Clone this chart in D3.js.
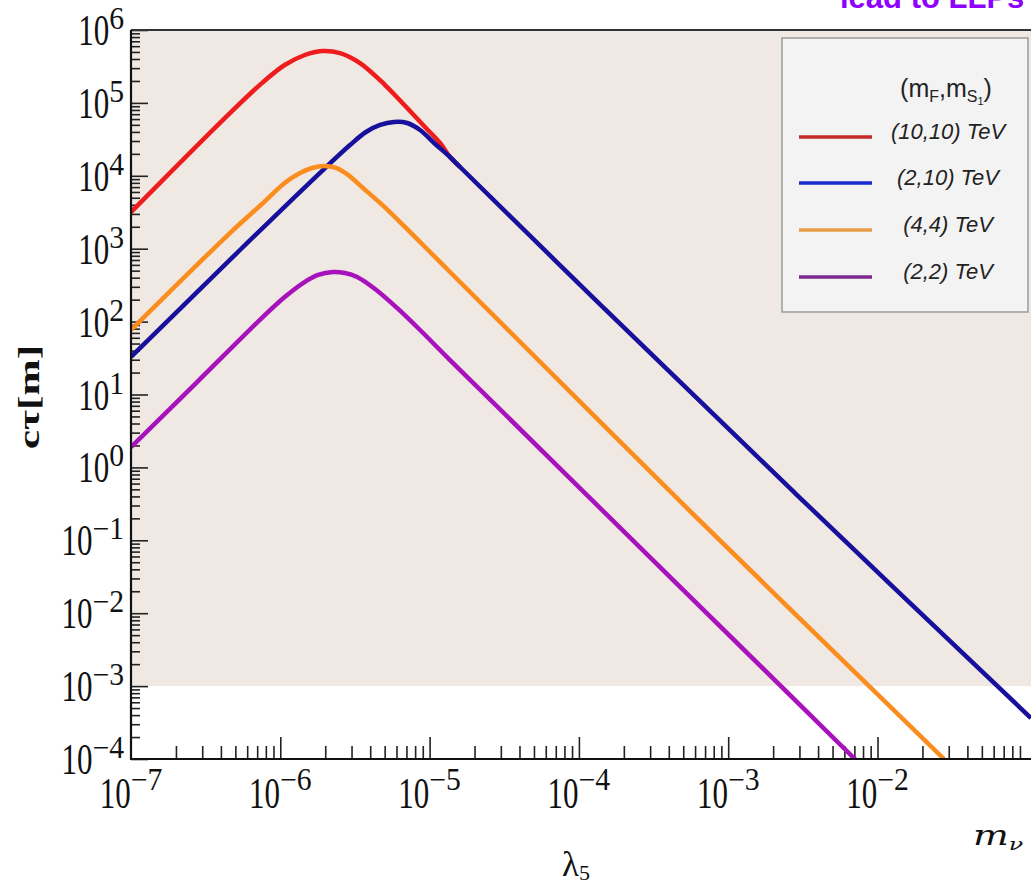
<!DOCTYPE html>
<html>
<head>
<meta charset="utf-8">
<script src="https://cdn.jsdelivr.net/npm/d3@7"></script>
<style>
  body { margin: 0; background: #fff; }
  svg { display: block; }
</style>
</head>
<body>
<svg id="chart" width="1031" height="885"></svg>
<script>
// values (lambda_5 vs c*tau in metres)
const lambdaRed = [1e-7, 4.60e-7, 7.53e-7, 1.07e-6, 1.46e-6, 1.90e-6, 2.51e-6, 3.42e-6, 5.03e-6, 7.39e-6, 9.31e-6, 1.175e-5, 1.37e-5, 1.60e-5];
const ctauRed = [3.18e3, 7.26e4, 1.87e5, 3.31e5, 4.54e5, 5.15e5, 4.83e5, 3.52e5, 1.76e5, 7.74e4, 4.67e4, 2.82e4, 1.81e4, 1.32e4];

const lambdaBlue = [1e-7, 5.37e-7, 1.93e-6, 2.93e-6, 3.75e-6, 4.66e-6, 5.78e-6, 7.07e-6, 8.63e-6, 1.09e-5, 1.37e-5, 1.60e-5, 1.38e-4, 2.89e-3, 0.1066];
const ctauBlue = [32.7, 960, 1.20e4, 2.64e4, 3.99e4, 4.98e4, 5.47e4, 5.30e4, 4.25e4, 2.73e4, 1.81e4, 1.32e4, 174, 0.418, 3.65e-4];

const lambdaOrange = [1e-7, 4.60e-7, 7.53e-7, 1.07e-6, 1.355e-6, 1.63e-6, 1.96e-6, 2.36e-6, 2.84e-6, 3.52e-6, 4.66e-6, 6.34e-6, 1.37e-5, 5.55e-4, 2.79e-2];
const ctauOrange = [76.7, 1.64e3, 4.10e3, 7.96e3, 1.09e4, 1.28e4, 1.36e4, 1.28e4, 1.03e4, 7.02e3, 4.24e3, 2.32e3, 479, 0.252, 1e-4];

const lambdaPurple = [1e-7, 2.77e-7, 7.66e-7, 1.07e-6, 1.42e-6, 1.79e-6, 2.25e-6, 2.71e-6, 3.27e-6, 4.31e-6, 6.05e-6, 8.63e-6, 1.37e-5, 7.06e-3];
const ctauPurple = [1.90, 14.8, 116, 217, 338, 436, 479, 464, 409, 280, 154, 76.7, 29.7, 1e-4];

const legendLabels = ['(10,10) TeV', '(2,10) TeV', '(4,4) TeV', '(2,2) TeV'];
const xTickExps = [-7, -6, -5, -4, -3, -2];
const yTickExps = [-4, -3, -2, -1, 0, 1, 2, 3, 4, 5, 6];
const shadeFloor = 1e-3;

const series = [
    { lambda: lambdaRed, ctau: ctauRed, color: '#ee1c1c', legendColor: '#c62b2b' },
    { lambda: lambdaBlue, ctau: ctauBlue, color: '#16109c', legendColor: '#1a2bd0' },
    { lambda: lambdaOrange, ctau: ctauOrange, color: '#fb8c1e', legendColor: '#e89c48' },
    { lambda: lambdaPurple, ctau: ctauPurple, color: '#a812bd', legendColor: '#7d2a8c' }
];

const svg = d3.select('#chart');
const plotLeft = 131, plotTop = 30, plotBottom = 759, plotRight = 1031;

const x = d3.scaleLog().domain([1e-7, 1e-1]).range([plotLeft, plotLeft + 6 * 149.3]);
const y = d3.scaleLog().domain([1e-4, 1e6]).range([plotBottom, plotTop]);

// purple slide text, mostly cut off at the top
svg.append('text')
    .attr('x', 840).attr('y', 8)
    .attr('font-family', 'Liberation Sans, Arial, sans-serif')
    .attr('font-weight', 'bold')
    .attr('font-size', 31)
    .attr('fill', '#9000ff')
    .text('lead to LLPs');

// shaded region c*tau > 1 mm
svg.append('rect')
    .attr('x', plotLeft).attr('y', plotTop)
    .attr('width', plotRight - plotLeft)
    .attr('height', y(shadeFloor) - plotTop)
    .attr('fill', '#f0e8e2');

svg.append('defs').append('clipPath').attr('id', 'plotclip')
    .append('rect')
    .attr('x', plotLeft).attr('y', plotTop)
    .attr('width', plotRight - plotLeft).attr('height', plotBottom - plotTop);

// minor / major ticks
const minorVals = exps => {
    let out = [];
    exps.forEach(e => {
        for (let k = 2; k <= 9; k++) out.push(k * Math.pow(10, e));
    });
    return out;
};

const xAxisG = svg.append('g').attr('transform', `translate(0,${plotBottom})`);
xAxisG.append('g')
    .call(d3.axisBottom(x).tickValues(minorVals(xTickExps)).tickSize(-13).tickFormat(''))
    .call(g => g.select('.domain').remove());
xAxisG.append('g')
    .call(d3.axisBottom(x).tickValues(xTickExps.slice(1).map(e => Math.pow(10, e))).tickSize(-22).tickFormat(''))
    .call(g => g.select('.domain').remove());
xAxisG.selectAll('line').attr('stroke', '#222').attr('stroke-width', 1.6);

const yAxisG = svg.append('g').attr('transform', `translate(${plotLeft},0)`);
yAxisG.append('g')
    .call(d3.axisLeft(y).tickValues(minorVals(yTickExps.slice(0, -1))).tickSize(-9).tickFormat(''))
    .call(g => g.select('.domain').remove());
yAxisG.append('g')
    .call(d3.axisLeft(y).tickValues(yTickExps.map(e => Math.pow(10, e))).tickSize(-17).tickFormat(''))
    .call(g => g.select('.domain').remove());
yAxisG.selectAll('line').attr('stroke', '#222').attr('stroke-width', 1.6);

// curves
const line = d3.line()
    .x(d => x(d[0]))
    .y(d => y(d[1]))
    .curve(d3.curveCatmullRom.alpha(0.5));

svg.append('g')
    .attr('clip-path', 'url(#plotclip)')
    .selectAll('path')
    .data(series)
    .enter()
    .append('path')
    .attr('d', s => line(s.lambda.map((l, i) => [l, s.ctau[i]])))
    .attr('fill', 'none')
    .attr('stroke', s => s.color)
    .attr('stroke-width', 4.5)
    .attr('stroke-linejoin', 'round');

// frame
svg.append('line').attr('x1', plotLeft).attr('x2', plotRight).attr('y1', plotTop).attr('y2', plotTop)
    .attr('stroke', '#333').attr('stroke-width', 2);
svg.append('line').attr('x1', plotLeft).attr('x2', plotLeft).attr('y1', plotTop).attr('y2', plotBottom + 1)
    .attr('stroke', '#111').attr('stroke-width', 2.2);
svg.append('line').attr('x1', plotLeft - 1).attr('x2', plotRight).attr('y1', plotBottom).attr('y2', plotBottom)
    .attr('stroke', '#111').attr('stroke-width', 2.2);

// 10^n labels, stretched like the picture
const serif = 'Liberation Serif, Times New Roman, serif';
const powLabel = (exp, px, py, mode) => {
    let g = svg.append('g');
    let baseG = g.append('g');
    let base = baseG.append('text')
        .attr('font-family', serif).attr('font-size', 31).attr('fill', '#111')
        .text('10');
    let expG = g.append('g');
    let sup = expG.append('text')
        .attr('font-family', serif).attr('font-size', 22).attr('fill', '#111')
        .text(String(exp).replace('-', '\u2212'));
    let bw = base.node().getComputedTextLength();
    let ew = sup.node().getComputedTextLength() * 1.35;
    let startX = mode === 'y' ? px - ew - bw : px - (bw + ew) / 2;
    let baseY = mode === 'y' ? py + 15 : py;
    let supY = mode === 'y' ? py - 1 : py - 18;
    baseG.attr('transform', `translate(${startX},${baseY}) scale(1,1.4)`);
    expG.attr('transform', `translate(${startX + bw},${supY}) scale(1.35,1.4)`);
};

yTickExps.forEach(e => powLabel(e, 124, y(Math.pow(10, e)), 'y'));
xTickExps.forEach(e => powLabel(e, x(Math.pow(10, e)), 808, 'x'));

// axis titles
svg.append('text')
    .attr('transform', 'translate(39,397) rotate(-90) scale(1.5,1)')
    .attr('text-anchor', 'middle')
    .attr('font-family', serif).attr('font-weight', 'bold').attr('font-size', 29)
    .attr('fill', '#111')
    .text('c\u03c4[m]');

let xt = svg.append('text')
    .attr('x', 562).attr('y', 876)
    .attr('font-family', serif).attr('font-size', 35).attr('fill', '#111');
xt.append('tspan').text('\u03bb');
xt.append('tspan').attr('font-size', 22).attr('dy', 4).text('5');

let mt = svg.append('g').attr('transform', 'translate(973,845) scale(1.4,1)');
let mtext = mt.append('text')
    .attr('font-family', 'DejaVu Serif, serif').attr('font-style', 'italic').attr('font-size', 27).attr('fill', '#111');
mtext.append('tspan').text('m');
mtext.append('tspan').attr('font-size', 17).attr('dy', 5).text('\u03bd');

// legend
const legend = svg.append('g');
legend.append('rect')
    .attr('x', 782).attr('y', 38).attr('width', 246).attr('height', 274)
    .attr('fill', '#f4f3f3').attr('stroke', '#9a9a9a').attr('stroke-width', 1.5);

const sans = 'Liberation Sans, Arial, sans-serif';
let lt = legend.append('text')
    .attr('x', 946).attr('y', 97)
    .attr('text-anchor', 'middle')
    .attr('font-family', sans).attr('font-size', 25).attr('fill', '#222');
lt.append('tspan').text('(m');
lt.append('tspan').attr('font-size', 16).attr('dy', 5).text('F');
lt.append('tspan').attr('dy', -5).text(',m');
lt.append('tspan').attr('font-size', 16).attr('dy', 5).text('S');
lt.append('tspan').attr('font-size', 11).attr('dy', 3).text('1');
lt.append('tspan').attr('dy', -8).text(')');

const rowY = [137, 183, 230, 277];
legend.selectAll('.leg_line')
    .data(series)
    .enter()
    .append('line')
    .attr('class', 'leg_line')
    .attr('x1', 799).attr('x2', 872)
    .attr('y1', (s, i) => rowY[i]).attr('y2', (s, i) => rowY[i])
    .attr('stroke', s => s.legendColor)
    .attr('stroke-width', 3.5);

legend.selectAll('.leg_text')
    .data(legendLabels)
    .enter()
    .append('text')
    .attr('class', 'leg_text')
    .attr('x', 948)
    .attr('y', (d, i) => rowY[i] + 2)
    .attr('text-anchor', 'middle')
    .attr('font-family', sans).attr('font-style', 'italic').attr('font-size', 22)
    .attr('fill', '#222')
    .text(d => d);
</script>
</body>
</html>
